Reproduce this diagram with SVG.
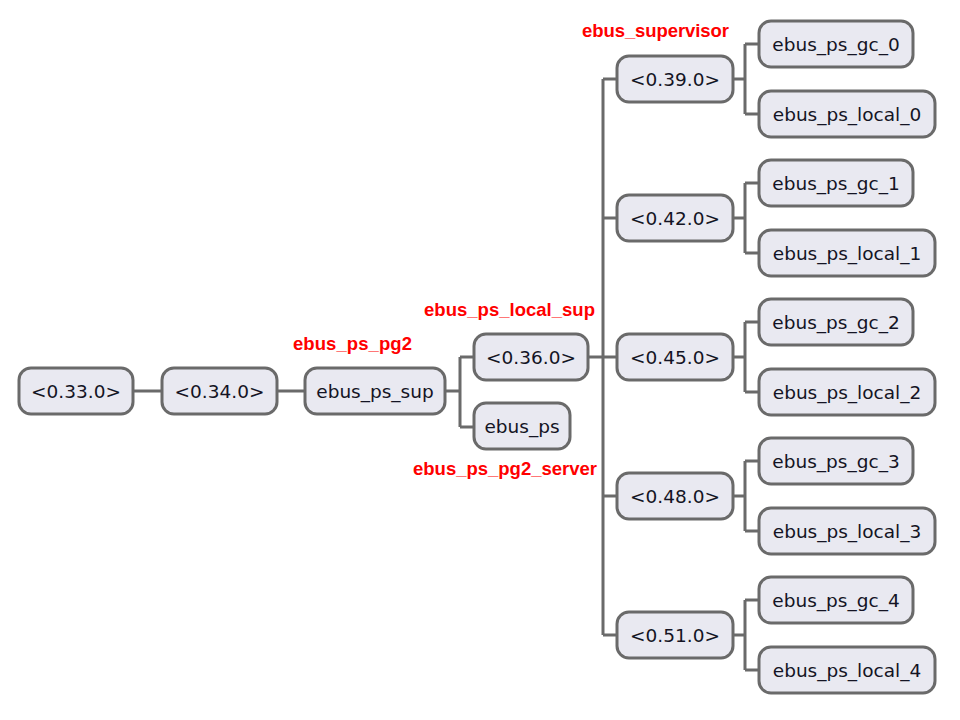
<svg xmlns="http://www.w3.org/2000/svg" width="960" height="720" viewBox="0 0 960 720">
<style>
.n rect{fill:#e9e9f1;stroke:#6a6a6a;stroke-width:3}
.n text{font-family:"DejaVu Sans",sans-serif;font-size:18.5px;fill:#141424;text-anchor:middle;dominant-baseline:central}
#edges path{fill:none;stroke:#6a6a6a;stroke-width:3}
.lbl{font-family:"Liberation Sans",Arial,sans-serif;font-weight:bold;font-size:18.5px;fill:#ff0000}
</style>
<rect width="960" height="720" fill="#ffffff"/>
<g id="edges">
<path d="M133,391H162M277,391H305M445,391H460M460,357V427M460,357H474M460,427H474"/>
<path d="M588,357H603M603,79V635M603,79H617M603,218H617M603,357H617M603,496H617M603,635H617"/>
<path d="M733,79H745M745,44V114M745,44H759M745,114H759"/>
<path d="M733,218H745M745,183V253M745,183H759M745,253H759"/>
<path d="M733,357H745M745,322V392M745,322H759M745,392H759"/>
<path d="M733,496H745M745,461V531M745,461H759M745,531H759"/>
<path d="M733,635H745M745,600V670M745,600H759M745,670H759"/>
</g>
<g id="n033" class="n"><rect x="19" y="368" width="114" height="46" rx="12"/><text x="76" y="391">&lt;0.33.0&gt;</text></g>
<g id="n034" class="n"><rect x="162" y="368" width="115" height="46" rx="12"/><text x="219.5" y="391">&lt;0.34.0&gt;</text></g>
<g id="ebus_ps_sup" class="n"><rect x="305" y="368" width="140" height="46" rx="12"/><text x="375" y="391">ebus_ps_sup</text></g>
<g id="n036" class="n"><rect x="474" y="334" width="114" height="46" rx="12"/><text x="531" y="357">&lt;0.36.0&gt;</text></g>
<g id="ebus_ps" class="n"><rect x="474" y="403" width="96" height="46" rx="12"/><text x="522" y="426">ebus_ps</text></g>
<g id="n039" class="n"><rect x="617" y="56" width="116" height="46" rx="12"/><text x="675" y="79">&lt;0.39.0&gt;</text></g>
<g id="n042" class="n"><rect x="617" y="195" width="116" height="46" rx="12"/><text x="675" y="218">&lt;0.42.0&gt;</text></g>
<g id="n045" class="n"><rect x="617" y="334" width="116" height="46" rx="12"/><text x="675" y="357">&lt;0.45.0&gt;</text></g>
<g id="n048" class="n"><rect x="617" y="473" width="116" height="46" rx="12"/><text x="675" y="496">&lt;0.48.0&gt;</text></g>
<g id="n051" class="n"><rect x="617" y="612" width="116" height="46" rx="12"/><text x="675" y="635">&lt;0.51.0&gt;</text></g>
<g id="gc0" class="n"><rect x="759" y="21" width="154" height="46" rx="12"/><text x="836" y="44">ebus_ps_gc_0</text></g>
<g id="local0" class="n"><rect x="759" y="91" width="176" height="46" rx="12"/><text x="847" y="114">ebus_ps_local_0</text></g>
<g id="gc1" class="n"><rect x="759" y="160" width="154" height="46" rx="12"/><text x="836" y="183">ebus_ps_gc_1</text></g>
<g id="local1" class="n"><rect x="759" y="230" width="176" height="46" rx="12"/><text x="847" y="253">ebus_ps_local_1</text></g>
<g id="gc2" class="n"><rect x="759" y="299" width="154" height="46" rx="12"/><text x="836" y="322">ebus_ps_gc_2</text></g>
<g id="local2" class="n"><rect x="759" y="369" width="176" height="46" rx="12"/><text x="847" y="392">ebus_ps_local_2</text></g>
<g id="gc3" class="n"><rect x="759" y="438" width="154" height="46" rx="12"/><text x="836" y="461">ebus_ps_gc_3</text></g>
<g id="local3" class="n"><rect x="759" y="508" width="176" height="46" rx="12"/><text x="847" y="531">ebus_ps_local_3</text></g>
<g id="gc4" class="n"><rect x="759" y="577" width="154" height="46" rx="12"/><text x="836" y="600">ebus_ps_gc_4</text></g>
<g id="local4" class="n"><rect x="759" y="647" width="176" height="46" rx="12"/><text x="847" y="670">ebus_ps_local_4</text></g>
<g id="labels">
<text class="lbl" x="582" y="37" textLength="147" lengthAdjust="spacing">ebus_supervisor</text>
<text class="lbl" x="424" y="316" textLength="171" lengthAdjust="spacing">ebus_ps_local_sup</text>
<text class="lbl" x="293" y="350" textLength="119" lengthAdjust="spacing">ebus_ps_pg2</text>
<text class="lbl" x="413" y="475" textLength="184" lengthAdjust="spacing">ebus_ps_pg2_server</text>
</g>
</svg>
